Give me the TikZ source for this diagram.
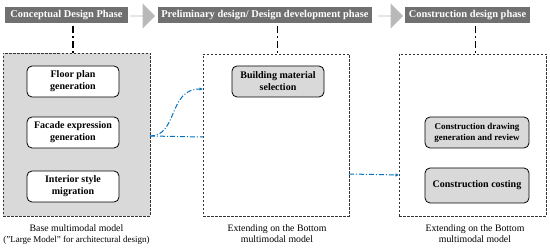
\documentclass[tikz,border=0pt]{standalone}
\usepackage{fontspec}
\setmainfont{Liberation Serif}
\usetikzlibrary{arrows.meta,shapes.arrows}
\definecolor{phasegray}{RGB}{112,112,112}
\definecolor{boxgray}{RGB}{217,217,217}
\definecolor{linkblue}{RGB}{0,112,192}

\begin{document}
\begin{tikzpicture}[x=1pt,y=-1pt,
  phase/.style={fill=phasegray, text=white, font=\fontsize{10.4}{12}\selectfont\bfseries, inner sep=0pt, minimum height=16pt},
  flow/.style={single arrow, fill=gray!55, inner sep=0pt, minimum height=25pt, minimum width=25pt, single arrow head extend=5pt},
  model/.style={draw=black!80, line width=0.7pt, dash pattern=on 2.5pt off 1.5pt, inner sep=0pt},
  task/.style={draw, line width=0.8pt, rounded corners=5pt, fill=white, align=center, font=\fontsize{10}{12}\selectfont\bfseries, minimum width=92pt, minimum height=31pt, inner sep=1pt},
  link/.style={linkblue, line width=1pt, dash pattern=on 5pt off 2pt on 1pt off 2pt},
  phaseline/.style={line width=1.3pt, dash pattern=on 7pt off 3pt on 2pt off 3pt},
  caption/.style={align=center, font=\fontsize{9.8}{11}\selectfont, inner sep=0pt}]
\useasboundingbox (0,0) rectangle (550,251);

% phases
\node[phase, minimum width=123pt] (h1) at (66.5,15) {Conceptual Design Phase};
\node[phase, minimum width=214pt] (h2) at (265,15) {Preliminary design/ Design development phase};
\node[phase, minimum width=125pt] (h3) at (467.5,15) {Construction design phase};
\node[flow] (a1) at (142.5,16) {};
\node[flow] (a2) at (390.5,16) {};

% models
\node[model, fill=boxgray, minimum width=147pt, minimum height=163pt] (o1) at (76.5,134.5) {};
\node[model, minimum width=146pt, minimum height=162pt] (o2) at (276,135) {};
\node[model, minimum width=147pt, minimum height=162pt] (o3) at (472.5,135) {};

\coordinate (t1) at (73,53);
\coordinate (t2) at (277.5,54);
\coordinate (t3) at (475.5,54);
\draw[phaseline] (h1.south -| t1) ++(0,3) -- (t1);
\draw[phaseline] (h2.south -| t2) ++(0,3) -- (t2);
\draw[phaseline] (h3.south -| t3) ++(0,3) -- (t3);

% tasks
\node[task] (f1) at (73,81.5) {Floor plan\\generation};
\node[task] (f2) at (73,132.5) {Facade expression\\generation};
\node[task] (f3) at (73,186.5) {Interior style\\migration};
\node[task, fill=boxgray] (b1) at (278,81.5) {Building material\\selection};
\node[task, fill=boxgray, minimum width=104pt, font=\fontsize{9}{11}\selectfont\bfseries] (c1) at (477,132.5) {Construction drawing\\generation and review};
\node[task, fill=boxgray, minimum width=104pt, minimum height=35pt] (c2) at (477,185.5) {Construction costing};

% links
\coordinate (p1) at (150,136);
\coordinate (p2) at (203,89);
\coordinate (p3) at (203,137);
\coordinate (p4) at (349,174);
\coordinate (p5) at (399,175);
\draw[link, -{Latex[length=3.5pt,width=3.5pt]}] (p1) .. controls (178,136) and (168,89) .. (p2);
\draw[link] (p1) -- (p3);
\draw[link, -{Latex[length=3.5pt,width=3.5pt]}] (p4) -- (p5);

% captions
\node[caption, anchor=north] (l1) at (76.5,225) {Base multimodal model\\{\fontsize{9}{10}\selectfont("Large Model" for architectural design)}};
\node[caption, anchor=north] (l2) at (277,225) {Extending on the Bottom\\multimodal model};
\node[caption, anchor=north] (l3) at (475,225) {Extending on the Bottom\\multimodal model};
\end{tikzpicture}
\end{document}
